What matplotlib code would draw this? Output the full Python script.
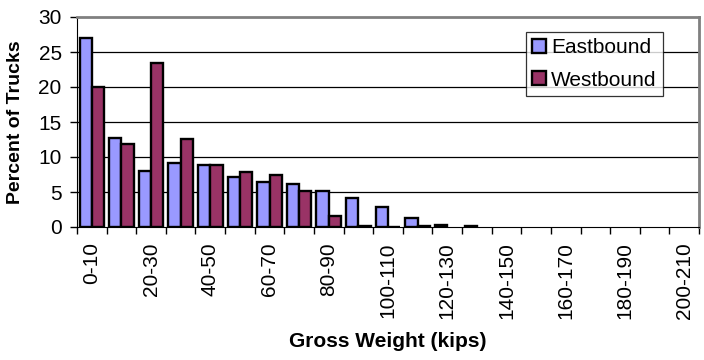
import numpy as np
import matplotlib
matplotlib.use("Agg")
import matplotlib.pyplot as plt
from matplotlib.ticker import FixedLocator, NullFormatter

plt.rcParams['font.family'] = ['Liberation Sans', 'DejaVu Sans']

# gross weight bins (kips)
bins = ['%d-%d' % (lo, lo + 10) for lo in range(0, 210, 10)]

# percent of trucks per bin
eastbound = [27.0, 12.7, 8.0, 9.1, 8.9, 7.1, 6.4, 6.1, 5.2, 4.1, 2.9,
             1.25, 0.3, 0.1, 0, 0, 0, 0, 0, 0, 0]
westbound = [20.0, 11.9, 23.5, 12.6, 8.85, 7.9, 7.5, 5.2, 1.6, 0.2, 0.05,
             0.1, 0, 0, 0, 0, 0, 0, 0, 0, 0]

fig = plt.figure(figsize=(7.04, 3.6), dpi=100)
ax = fig.add_axes([77 / 704, 1 - 227 / 360, 622 / 704, 210 / 360])

x = np.arange(len(bins))
w = 0.415
# empty bins get no bar at all
e = np.array(eastbound, dtype=float)
wb = np.array(westbound, dtype=float)
e[e == 0] = np.nan
wb[wb == 0] = np.nan
ax.bar(x - w / 2, e, w, color='#9999ff', edgecolor='black',
       linewidth=1.7, label='Eastbound', zorder=3)
ax.bar(x + w / 2, wb, w, color='#993366', edgecolor='black',
       linewidth=1.7, label='Westbound', zorder=3)

ax.set_xlim(-0.5, len(bins) - 0.5)
ax.set_ylim(0, 30)
ax.set_yticks(range(0, 31, 5))
ax.tick_params(axis='y', direction='out', length=5, width=1, pad=6,
               labelsize=15)

# tick marks on bin edges, labels on every other bin centre
ax.xaxis.set_major_locator(FixedLocator(np.arange(-0.5, len(bins), 1.0)))
ax.xaxis.set_major_formatter(NullFormatter())
ax.xaxis.set_minor_locator(FixedLocator(x[::2]))
ax.set_xticklabels(bins[::2], minor=True, rotation=90, fontsize=15)
ax.tick_params(axis='x', which='major', direction='out', length=5, width=1)
ax.tick_params(axis='x', which='minor', length=0, pad=11)

for yv in range(5, 30, 5):
    ax.axhline(yv, color='black', linewidth=0.9, zorder=1)

ax.spines['left'].set_color('black')
ax.spines['bottom'].set_color('black')
ax.spines['top'].set_color('#808080')
ax.spines['right'].set_color('#808080')
ax.spines['top'].set_linewidth(2)
ax.spines['right'].set_linewidth(2)

ax.set_ylabel('Percent of Trucks', fontsize=14, fontweight='bold',
              labelpad=10)
ax.set_xlabel('Gross Weight (kips)', fontsize=15, fontweight='bold',
              labelpad=9)

leg = ax.legend(loc='upper left', bbox_to_anchor=(0.722, 0.929),
                fontsize=15, frameon=True, fancybox=False, shadow=False,
                borderpad=0.3, handlelength=0.65, handleheight=0.65,
                handletextpad=0.25, labelspacing=0.65, borderaxespad=0)
leg.get_frame().set_edgecolor('black')
leg.get_frame().set_linewidth(0.9)

fig.savefig('out.png', dpi=100)
